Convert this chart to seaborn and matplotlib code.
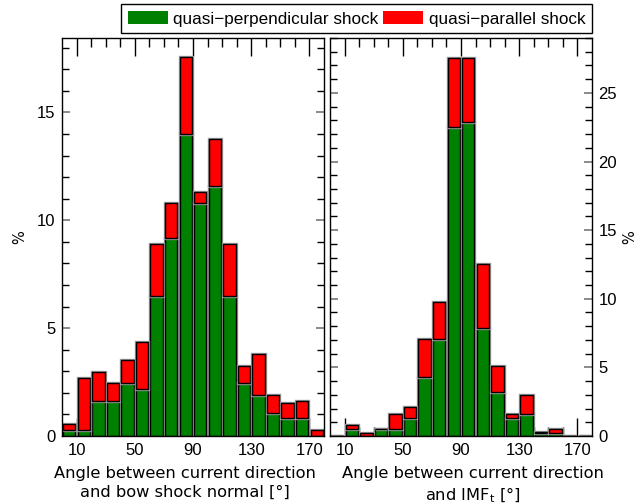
import matplotlib
matplotlib.use("Agg")
import matplotlib.pyplot as plt
import matplotlib.patheffects as pe
from matplotlib.patches import Patch
from matplotlib.ticker import FixedLocator, MultipleLocator
import seaborn as sns
import pandas as pd
import numpy as np

sns.set_style("ticks")
plt.rcParams["font.family"] = ["DejaVu Sans"]
plt.rcParams["text.color"] = "black"
plt.rcParams["axes.labelcolor"] = "black"
plt.rcParams["xtick.color"] = "black"
plt.rcParams["ytick.color"] = "black"

# bin centres in degrees (10 degree bins, 0-180)
angles = [5, 15, 25, 35, 45, 55, 65, 75, 85, 95, 105, 115, 125, 135, 145, 155, 165, 175]

# left panel: current direction vs bow shock normal (% of events)
normal_perp = [0.28, 0.28, 1.64, 1.64, 2.44, 2.16, 6.48, 9.18, 14.01, 10.80, 11.60, 6.48,
               2.44, 1.88, 1.08, 0.82, 0.82, 0.00]
normal_total = [0.54, 2.70, 2.98, 2.44, 3.52, 4.34, 8.92, 10.80, 17.56, 11.33, 13.78, 8.92,
                3.24, 3.80, 1.88, 1.51, 1.64, 0.28]

# right panel: current direction vs IMF_t (% of events)
imf_perp = [0.00, 0.49, 0.00, 0.49, 0.49, 1.33, 4.31, 7.06, 22.55, 22.89, 7.86, 3.22,
            1.33, 1.62, 0.24, 0.24, 0.00, 0.00]
imf_total = [0.00, 0.78, 0.24, 0.50, 1.62, 2.13, 7.06, 9.77, 27.51, 27.51, 12.50, 5.13,
             1.62, 2.97, 0.26, 0.53, 0.00, 0.00]

PERP = "quasi\u2212perpendicular shock"
PAR = "quasi\u2212parallel shock"
colors = {PERP: "#008000", PAR: "#ff0000"}

major_ticks = [10, 50, 90, 130, 170]
minor_ticks = [20, 30, 40, 60, 70, 80, 100, 110, 120, 140, 150, 160]


def make_frame(perp, total):
    par = np.array(total) - np.array(perp)
    df = pd.DataFrame({
        "angle": angles * 2,
        "shock": [PERP] * len(angles) + [PAR] * len(angles),
        "pct": list(perp) + list(np.clip(par, 0, None)),
    })
    return df


def draw_panel(ax, df, ymax):
    sns.histplot(data=df, x="angle", weights="pct", hue="shock", hue_order=[PAR, PERP],
                 multiple="stack", binwidth=10, binrange=(0, 180), shrink=0.85,
                 palette=colors, alpha=1, edgecolor="black", linewidth=1,
                 legend=False, ax=ax)
    for p in ax.patches:
        p.set_path_effects([pe.Stroke(linewidth=2.4, foreground="#999999"), pe.Normal()])
    ax.set_xlim(0, 180)
    ax.set_ylim(0, ymax)
    ax.set_axisbelow(True)
    ax.xaxis.set_major_locator(FixedLocator(major_ticks))
    ax.xaxis.set_minor_locator(FixedLocator(minor_ticks))
    ax.yaxis.set_major_locator(MultipleLocator(5))
    ax.yaxis.set_minor_locator(MultipleLocator(1))
    ax.tick_params(axis="both", which="both", direction="in", top=True, bottom=True,
                   left=True, right=True, labelsize=12, labelfontfamily="Liberation Sans",
                   labelcolor="black")
    ax.tick_params(axis="x", which="major", length=13, width=1, pad=5)
    ax.tick_params(axis="x", which="minor", length=6.5, width=1)
    ax.tick_params(axis="y", which="major", length=6, width=1.2, color="#777777", pad=4.5)
    ax.tick_params(axis="y", which="minor", length=5, width=1)
    for t in ax.xaxis.get_major_ticks():
        t.tick1line.set_color("#555555")
    for s in ax.spines.values():
        s.set_linewidth(1)
        s.set_color("black")
    ax.set_facecolor("white")


fig = plt.figure(figsize=(6.39, 5.04), dpi=100)
ax1 = fig.add_axes([62 / 639, 68 / 504, 262 / 639, 398 / 504])
ax2 = fig.add_axes([330 / 639, 68 / 504, 262 / 639, 398 / 504])

draw_panel(ax1, make_frame(normal_perp, normal_total), 18.45)
draw_panel(ax2, make_frame(imf_perp, imf_total), 29)

ax1.set_ylabel("%", fontsize=10.5, labelpad=7)
ax1.set_xlabel("Angle between current direction\nand bow shock normal [\u00b0]",
               fontsize=11.7, linespacing=1.3)
ax1.xaxis.set_label_coords(0.468, -0.075)

ax2.tick_params(axis="y", labelleft=False, labelright=True)
ax2.yaxis.set_label_position("right")
ax2.set_ylabel("%", fontsize=10.5, labelpad=4)
ax2.set_xlabel("Angle between current direction\nand IMF$_\\mathrm{t}$ [\u00b0]",
               fontsize=11.7, linespacing=1.3)
ax2.xaxis.set_label_coords(0.545, -0.075)

handles = [Patch(facecolor=colors[PERP], edgecolor="none"),
           Patch(facecolor=colors[PAR], edgecolor="none")]
leg = fig.legend(handles, [PERP, PAR], loc="upper right", ncol=2,
                 bbox_to_anchor=(592 / 639, 1 - 4 / 504), frameon=True, fancybox=False,
                 edgecolor="black", framealpha=1, borderaxespad=0, borderpad=0.4,
                 handlelength=2.35, handleheight=0.85, handletextpad=0.3, columnspacing=0.3,
                 prop={"family": "Liberation Sans", "size": 12.3})
leg.get_frame().set_linewidth(1)

fig.savefig("out.png", dpi=100)
